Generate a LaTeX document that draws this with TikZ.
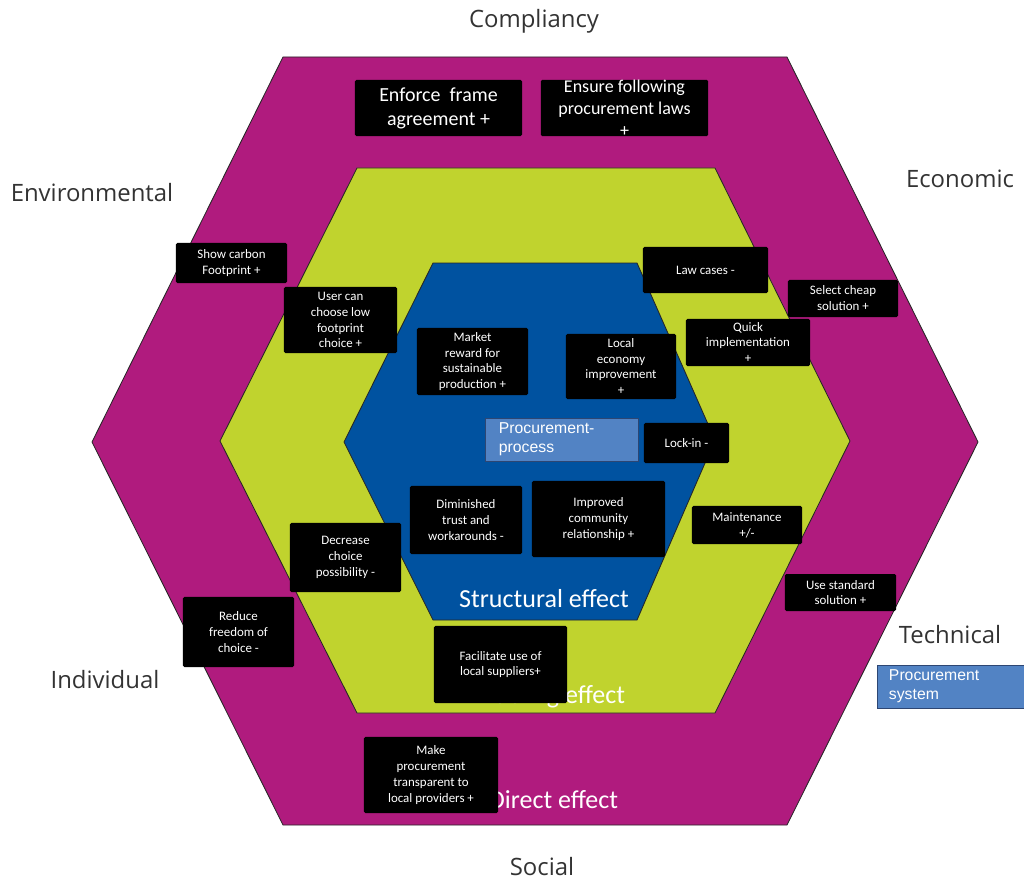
\documentclass[tikz,border=0pt]{standalone}
\usepackage{fontspec}
\setmainfont{Carlito}
\newfontfamily\dimfont{Open Sans}
\newfontfamily\arialfont{Liberation Sans}
\usepackage{xcolor}
\definecolor{hexmagenta}{RGB}{176,27,126}
\definecolor{hexlime}{RGB}{192,211,46}
\definecolor{hexblue}{RGB}{0,82,160}
\definecolor{procblue}{RGB}{82,131,196}
\definecolor{procline}{RGB}{45,70,115}

\begin{document}
\begin{tikzpicture}[x=0.025cm,y=-0.025cm,
        effbox/.style={fill=black,text=white,inner sep=0pt,align=center,rounded corners=1pt,
                       font=\fontsize{9.2}{11.3}\selectfont},
        dimlabel/.style={anchor=base,text=black!80,font=\dimfont\fontsize{17}{20}\selectfont},
        efflabel/.style={text=white,font=\fontsize{18.5}{22}\selectfont},
        procbox/.style={fill=procblue,draw=procline,line width=0.7pt,text=white,inner ysep=0pt,
                        align=left,font=\arialfont\fontsize{11.2}{13.5}\selectfont}]
                \useasboundingbox (0,0) rectangle (1024,879);

                \filldraw[fill=hexmagenta,draw=black!85,line width=0.6pt] (283,57) -- (787,57) -- (978,442) -- (787,825) -- (283,825) -- (92,442) -- cycle;
                \filldraw[fill=hexlime,draw=black!85,line width=0.6pt] (357,168) -- (715,168) -- (850,441) -- (715,713) -- (357,713) -- (220,441) -- cycle;
                \filldraw[fill=hexblue,draw=black!85,line width=0.6pt] (433,263) -- (637,263) -- (715,440) -- (637,620) -- (433,620) -- (344,442) -- cycle;

                \node[dimlabel] (compliancy) at (534,28) {Compliancy};
                \node[dimlabel] (environmental) at (92,202) {Environmental};
                \node[dimlabel] (economic) at (960,188) {Economic};
                \node[dimlabel] (technical) at (950,643) {Technical};
                \node[dimlabel] (individual) at (105,688) {Individual};
                \node[dimlabel] (social) at (542,875) {Social};

                \node[efflabel,anchor=base] (structural) at (544,607) {Structural effect};
                \node[efflabel,anchor=base east] (enabling) at (630,703) {Enabling effect};
                \node[efflabel,anchor=base east] (direct) at (623,808) {Direct effect};

                \node[procbox,minimum width=3.8cm,minimum height=1.075cm,inner xsep=0.325cm,text width=3.15cm] (process) at (562,439.5) {Procurement-\\process};
                \node[procbox,minimum width=3.725cm,minimum height=1.075cm,inner xsep=0.3cm,text width=3.125cm] (system) at (951.5,686.5) {Procurement\\system};

                \node[effbox,minimum width=4.175cm,minimum height=1.4cm,font=\fontsize{14.2}{17}\selectfont] (frame) at (438.5,108) {Enforce\ \ frame\\agreement +};
                \node[effbox,minimum width=4.175cm,minimum height=1.4cm,font=\fontsize{12.8}{15.6}\selectfont] (laws) at (624.5,108) {Ensure following\\procurement laws\\+};
                \node[effbox,minimum width=2.775cm,minimum height=1cm] (carbon) at (231.5,263) {Show carbon\\Footprint +};
                \node[effbox,minimum width=2.825cm,minimum height=1.65cm] (lowprint) at (340.5,320) {User can\\choose low\\footprint\\choice +};
                \node[effbox,minimum width=2.775cm,minimum height=1.675cm] (market) at (472.5,361.5) {Market\\reward for\\sustainable\\production +};
                \node[effbox,minimum width=2.75cm,minimum height=1.625cm] (economy) at (621,366.5) {Local\\economy\\improvement\\+};
                \node[effbox,minimum width=3.125cm,minimum height=1.15cm] (lawcases) at (705.5,270) {Law cases -};
                \node[effbox,minimum width=2.75cm,minimum height=0.925cm] (cheap) at (843,298.5) {Select cheap\\solution +};
                \node[effbox,minimum width=3.1cm,minimum height=1.175cm] (quick) at (748,342.5) {Quick\\implementation\\+};
                \node[effbox,minimum width=2.125cm,minimum height=1cm] (lockin) at (686.5,443) {Lock-in -};
                \node[effbox,minimum width=2.8cm,minimum height=1.7cm] (trust) at (466,520) {Diminished\\trust and\\workarounds -};
                \node[effbox,minimum width=3.325cm,minimum height=1.9cm] (community) at (598.5,519) {Improved\\community\\relationship +};
                \node[effbox,minimum width=2.75cm,minimum height=0.95cm] (maintenance) at (747,525) {Maintenance\\+/-};
                \node[effbox,minimum width=2.775cm,minimum height=1.725cm] (decrease) at (345.5,557.5) {Decrease\\choice\\possibility -};
                \node[effbox,minimum width=2.775cm,minimum height=1.75cm] (freedom) at (238.5,632) {Reduce\\freedom of\\choice -};
                \node[effbox,minimum width=2.775cm,minimum height=0.925cm] (standard) at (840.5,592.5) {Use standard\\solution +};
                \node[effbox,minimum width=3.325cm,minimum height=1.925cm] (suppliers) at (500.5,664.5) {Facilitate use of\\local suppliers+};
                \node[effbox,minimum width=3.35cm,minimum height=1.9cm] (transparent) at (431,775) {Make\\procurement\\transparent to\\local providers +};
            \end{tikzpicture}
\end{document}
